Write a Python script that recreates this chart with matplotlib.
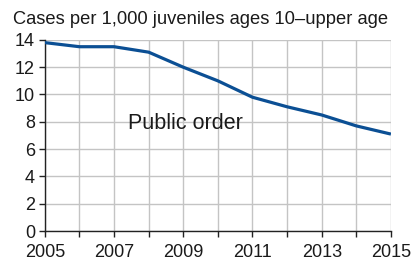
import matplotlib.pyplot as plt

years = [2005, 2006, 2007, 2008, 2009, 2010, 2011, 2012, 2013, 2014, 2015]
rate = [13.8, 13.5, 13.5, 13.1, 12.0, 11.0, 9.8, 9.1, 8.5, 7.7, 7.1]
xtick_years = [2005, 2007, 2009, 2011, 2013, 2015]

plt.rcParams['font.family'] = ['Liberation Sans', 'DejaVu Sans']

fig = plt.figure(figsize=(4.15, 2.59), dpi=100)
ax = fig.add_axes([0.108, 0.108, 0.834, 0.738])

ax.plot(years, rate, color='#0b4f94', lw=2.3, solid_capstyle='butt', zorder=3)

ax.set_xlim(2005, 2015)
ax.set_ylim(0, 14)
ax.set_xticks(years)
ax.set_xticklabels([str(y) if y in xtick_years else '' for y in years])
ax.set_yticks(range(0, 15, 2))
ax.grid(True, color='#c4c4c4', lw=1.0)
ax.set_axisbelow(True)

for s in ['top', 'right']:
    ax.spines[s].set_visible(False)
for s in ['left', 'bottom']:
    ax.spines[s].set_color('#222222')
    ax.spines[s].set_linewidth(1.0)

ax.tick_params(axis='both', labelsize=13, color='#222222', labelcolor='#1a1a1a',
               length=4, width=1.0)
ax.tick_params(axis='x', pad=5)
ax.tick_params(axis='y', pad=3)

ax.text(2007.4, 7.9, 'Public order', fontsize=15.5, color='#1a1a1a', va='center')
fig.text(0.031, 0.925, 'Cases per 1,000 juveniles ages 10\u2013upper age', fontsize=13.2,
         color='#1a1a1a', va='center')

fig.savefig('out.png', dpi=100)
